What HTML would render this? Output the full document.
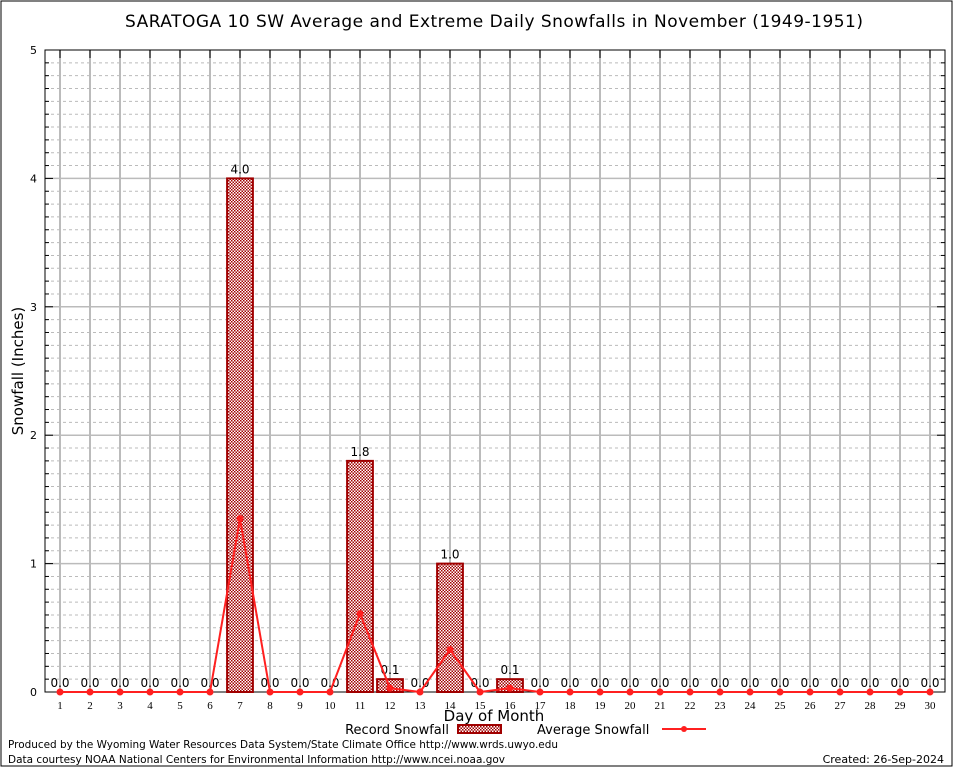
<!DOCTYPE html>
<html><head><meta charset="utf-8"><style>
body{margin:0;background:#fff}
svg{display:block;font-family:"DejaVu Sans","Liberation Sans",sans-serif}
</style></head><body>
<svg id="c" width="954" height="768">
<defs><pattern id="chk" width="3" height="3" patternUnits="userSpaceOnUse"><rect width="3" height="3" fill="#fff"/><rect width="1.5" height="1.5" fill="#a00000"/><rect x="1.5" y="1.5" width="1.5" height="1.5" fill="#a00000"/></pattern></defs>
<rect x="1" y="1" width="951" height="765" fill="none" stroke="#000" stroke-width="1"/>
<text x="494" y="27" font-size="17" text-anchor="middle" textLength="738">SARATOGA 10 SW Average and Extreme Daily Snowfalls in November (1949-1951)</text>
<g id="grid"></g><g id="marks"></g>
<text x="23" y="371" font-size="15" text-anchor="middle" transform="rotate(-90 23 371)">Snowfall (Inches)</text>
<text x="494" y="721" font-size="15" text-anchor="middle">Day of Month</text>
<g>
<text x="449" y="734" font-size="13" text-anchor="end">Record Snowfall</text>
<rect x="458" y="725" width="43" height="8" fill="url(#chk)" stroke="#a00000" stroke-width="2"/>
<text x="537" y="734" font-size="13">Average Snowfall</text>
<line x1="662" y1="729" x2="706" y2="729" stroke="#ff2020" stroke-width="2"/>
<circle cx="684" cy="729" r="3" fill="#ff2020"/>
</g>
<text x="8" y="748" font-size="11" textLength="550" lengthAdjust="spacingAndGlyphs">Produced by the Wyoming Water Resources Data System/State Climate Office http://www.wrds.uwyo.edu</text>
<text x="8" y="763" font-size="11" textLength="497" lengthAdjust="spacingAndGlyphs">Data courtesy NOAA National Centers for Environmental Information http://www.ncei.noaa.gov</text>
<text x="944" y="763" font-size="11" text-anchor="end">Created: 26-Sep-2024</text>
</svg>
<script>
const days=[1,2,3,4,5,6,7,8,9,10,11,12,13,14,15,16,17,18,19,20,21,22,23,24,25,26,27,28,29,30];
const recordValues=[0,0,0,0,0,0,4.0,0,0,0,1.8,0.1,0,1.0,0,0.1,0,0,0,0,0,0,0,0,0,0,0,0,0,0];
const averageValues=[0,0,0,0,0,0,1.35,0,0,0,0.61,0.03,0,0.33,0,0.03,0,0,0,0,0,0,0,0,0,0,0,0,0,0];
const yTicks=[0,1,2,3,4,5];
const L=45,R=945,T=50,B=692,YMAX=5;
const xs=d=>L+(d-0.5)*(R-L)/30;
const ys=v=>B-v*(B-T)/YMAX;
const NS='http://www.w3.org/2000/svg';
function mk(p,tag,a){const e=document.createElementNS(NS,tag);for(const k in a)e.setAttribute(k,a[k]);p.appendChild(e);return e;}
const g=document.getElementById('grid'),m=document.getElementById('marks');
for(let i=1;i<YMAX*10;i++){if(i%10===0)continue;const y=ys(i/10);
const l=mk(g,'line',{x1:L,x2:R,y1:y,y2:y,stroke:'#bbb','stroke-dasharray':'3,3'});


const t1=mk(g,'line',{x1:L,x2:L+4,y1:y,y2:y,stroke:'#000'});
const t2=mk(g,'line',{x1:R-4,x2:R,y1:y,y2:y,stroke:'#000'});}
yTicks.forEach(v=>{const y=ys(v);
if(v>0&&v<YMAX){const l=mk(g,'line',{x1:L,x2:R,y1:y,y2:y,stroke:'#bbb','stroke-width':1.5});

}
const tk=mk(g,'line',{x1:L,x2:L+8,y1:y,y2:y,stroke:'#000'});
const tk2=mk(g,'line',{x1:R-8,x2:R,y1:y,y2:y,stroke:'#000'});
const t=mk(g,'text',{x:L-8,y:y+4,'font-size':11,'text-anchor':'end'});t.textContent=v;

});
days.forEach(d=>{const x=xs(d);
const l=mk(g,'line',{x1:x,x2:x,y1:T,y2:B,stroke:'#bbb','stroke-width':2});


const tk=mk(g,'line',{x1:x,x2:x,y1:T,y2:T+8,stroke:'#000'});
const t=mk(g,'text',{x:x,y:B+17,'font-size':11,'text-anchor':'middle','font-family':'Liberation Serif,serif'});t.textContent=d;

});
const fr=mk(g,'rect',{x:L,y:T,width:R-L,height:B-T,fill:'none',stroke:'#000'});


const bw=(R-L)/30*0.86;
days.forEach((d,i)=>{const v=recordValues[i];const x=xs(d);
if(v>0){const r=mk(m,'rect',{x:x-bw/2,y:ys(v),width:bw,height:B-ys(v),fill:'url(#chk)',stroke:'#a00000','stroke-width':2});

}
const t=mk(m,'text',{x:x,y:ys(v)-5,'font-size':12,'text-anchor':'middle'});t.textContent=v.toFixed(1);

});
const pl=mk(m,'polyline',{points:days.map((d,i)=>xs(d)+','+ys(averageValues[i])).join(' '),fill:'none',stroke:'#ff2020','stroke-width':2});


days.forEach((d,i)=>{const c=mk(m,'circle',{cx:xs(d),cy:ys(averageValues[i]),r:3.5,fill:'#ff2020'});

});
</script>
</body></html>
